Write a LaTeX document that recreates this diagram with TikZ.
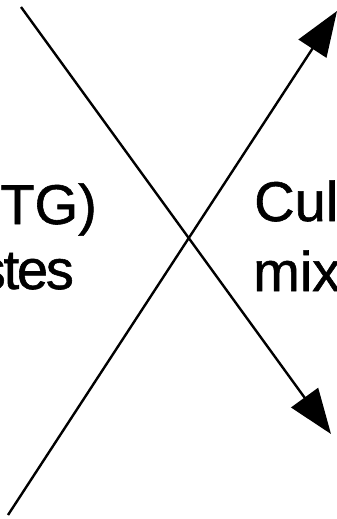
\documentclass[tikz,border=0pt]{standalone}
\usepackage{fontspec}
\setmainfont{Liberation Sans}[FakeBold=1]
\newfontfamily\tightsans{Liberation Sans}[FakeBold=1,LetterSpace=-4]
\usetikzlibrary{arrows.meta,positioning}

\begin{document}
\begin{tikzpicture}[x=1pt,y=-1pt,
    label text/.style={inner sep=0pt,font=\fontsize{56}{64}\selectfont},
    cross arrow/.style={line width=2.4pt,-{Triangle[length=45pt,width=33pt]}}]
    \useasboundingbox (0,0) rectangle (337,519);

    \coordinate (A) at (21,7);
    \coordinate (B) at (331,434);
    \coordinate (C) at (8,515);
    \coordinate (D) at (337,11);

    % left texts
    \node[label text,anchor=base east] (tg)   at (97,224) {TG)};
    \node[label text,font=\fontsize{56}{64}\tightsans,anchor=base east] (stes) at (74,289) {stes};

    % right texts
    \node[label text,anchor=base west] (cul) at (254,221) {Cul};
    \node[label text,anchor=base west] (mix) at (253,291) {mix};

    % the crossing arrows
    \draw[cross arrow] (A) -- (B);
    \draw[cross arrow] (C) -- (D);
\end{tikzpicture}
\end{document}
